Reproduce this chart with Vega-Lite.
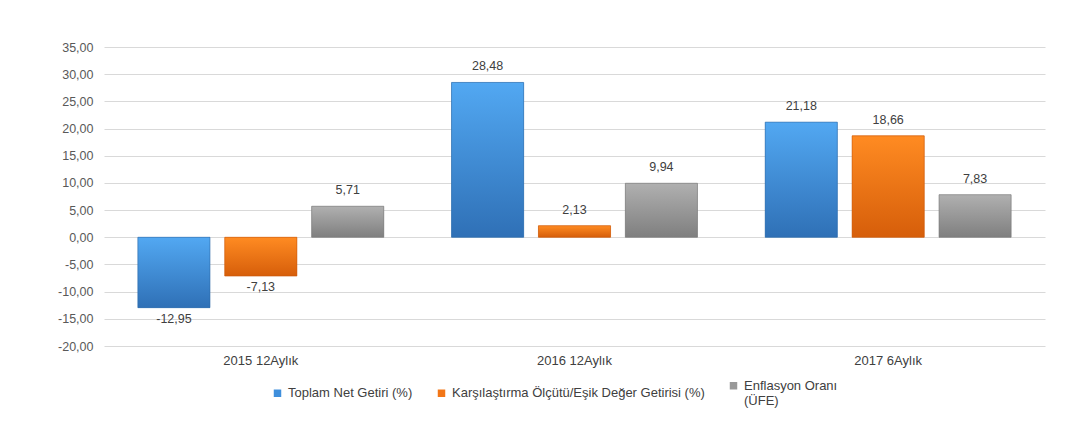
{
  "$schema": "https://vega.github.io/schema/vega-lite/v6.json",
  "width": 941,
  "height": 299,
  "autosize": {"type": "pad"},
  "padding": {"left": 57, "top": 41, "right": 40, "bottom": 5},
  "background": "#ffffff",
  "config": {
    "locale": {"number": {"decimal": ",", "thousands": ".", "grouping": [3], "currency": ["", " TL"], "minus": "-"}},
    "font": "Liberation Sans",
    "view": {"stroke": null},
    "axis": {"labelFont": "Liberation Sans", "labelFontSize": 12.5, "labelColor": "#595959"},
    "legend": {"labelFont": "Liberation Sans", "labelFontSize": 13, "labelColor": "#404040"}
  },
  "data": {
    "values": [
      {"period": "2015 12Aylık", "series": "Toplam Net Getiri (%)", "value": -12.95},
      {"period": "2015 12Aylık", "series": "Karşılaştırma Ölçütü/Eşik Değer Getirisi (%)", "value": -7.13},
      {"period": "2015 12Aylık", "series": "Enflasyon Oranı (ÜFE)", "value": 5.71},
      {"period": "2016 12Aylık", "series": "Toplam Net Getiri (%)", "value": 28.48},
      {"period": "2016 12Aylık", "series": "Karşılaştırma Ölçütü/Eşik Değer Getirisi (%)", "value": 2.13},
      {"period": "2016 12Aylık", "series": "Enflasyon Oranı (ÜFE)", "value": 9.94},
      {"period": "2017 6Aylık", "series": "Toplam Net Getiri (%)", "value": 21.18},
      {"period": "2017 6Aylık", "series": "Karşılaştırma Ölçütü/Eşik Değer Getirisi (%)", "value": 18.66},
      {"period": "2017 6Aylık", "series": "Enflasyon Oranı (ÜFE)", "value": 7.83}
    ]
  },
  "encoding": {
    "x": {
      "field": "period", "type": "nominal",
      "sort": ["2015 12Aylık", "2016 12Aylık", "2017 6Aylık"],
      "scale": {"paddingInner": 0.216, "paddingOuter": 0.108},
      "axis": {"title": null, "labelAngle": 0, "ticks": false, "domain": false, "grid": false, "labelPadding": 8, "labelFontSize": 13, "labelColor": "#404040"}
    },
    "xOffset": {
      "field": "series", "type": "nominal",
      "sort": ["Toplam Net Getiri (%)", "Karşılaştırma Ölçütü/Eşik Değer Getirisi (%)", "Enflasyon Oranı (ÜFE)"],
      "scale": {"paddingInner": 0.17, "paddingOuter": 0}
    },
    "y": {
      "field": "value", "type": "quantitative",
      "scale": {"domain": [-20, 35], "nice": false, "zero": true},
      "axis": {"title": null, "values": [-20, -15, -10, -5, 0, 5, 10, 15, 20, 25, 30, 35], "format": ".2f", "domain": false, "ticks": false, "grid": true, "gridColor": "#d9d9d9", "gridWidth": 1, "labelPadding": 11}
    }
  },
  "layer": [
    {
      "mark": {"type": "bar"},
      "encoding": {
        "fill": {
          "field": "series", "type": "nominal",
          "scale": {
            "domain": ["Toplam Net Getiri (%)", "Karşılaştırma Ölçütü/Eşik Değer Getirisi (%)", "Enflasyon Oranı (ÜFE)"],
            "range": ["#3f8fdc", "#f27617", "#999999"]
          },
          "legend": {
            "title": null, "orient": "none", "legendX": 167, "legendY": 332, "direction": "horizontal",
            "symbolType": "square", "symbolSize": 56, "columnPadding": 22, "padding": 0,
            "labelLimit": 400, "labelOffset": 4, "labelBaseline": "middle",
            "labelExpr": "datum.label == 'Enflasyon Oranı (ÜFE)' ? ['Enflasyon Oranı', '(ÜFE)'] : datum.label"
          }
        }
      }
    },
    {
      "transform": [{"filter": "datum.series == 'Toplam Net Getiri (%)'"}],
      "mark": {"type": "bar", "stroke": "#2e6aa8", "strokeWidth": 0.6, "fill": {"gradient": "linear", "x1": 0, "y1": 0, "x2": 0, "y2": 1, "stops": [{"offset": 0, "color": "#52a8f2"}, {"offset": 1, "color": "#2f70b6"}]}}
    },
    {
      "transform": [{"filter": "datum.series == 'Karşılaştırma Ölçütü/Eşik Değer Getirisi (%)'"}],
      "mark": {"type": "bar", "stroke": "#c9580a", "strokeWidth": 0.6, "fill": {"gradient": "linear", "x1": 0, "y1": 0, "x2": 0, "y2": 1, "stops": [{"offset": 0, "color": "#ff8b22"}, {"offset": 1, "color": "#d65e0a"}]}}
    },
    {
      "transform": [{"filter": "datum.series == 'Enflasyon Oranı (ÜFE)'"}],
      "mark": {"type": "bar", "stroke": "#7a7a7a", "strokeWidth": 0.6, "fill": {"gradient": "linear", "x1": 0, "y1": 0, "x2": 0, "y2": 1, "stops": [{"offset": 0, "color": "#b0b0b0"}, {"offset": 1, "color": "#7f7f7f"}]}}
    },
    {
      "transform": [{"filter": "datum.value >= 0"}],
      "mark": {"type": "text", "baseline": "bottom", "dy": -9, "fontSize": 12.5, "color": "#404040", "font": "Liberation Sans"},
      "encoding": {"text": {"field": "value", "type": "quantitative", "format": ".2f"}}
    },
    {
      "transform": [{"filter": "datum.value < 0"}],
      "mark": {"type": "text", "baseline": "top", "dy": 5, "fontSize": 12.5, "color": "#404040", "font": "Liberation Sans"},
      "encoding": {"text": {"field": "value", "type": "quantitative", "format": ".2f"}}
    }
  ]
}
